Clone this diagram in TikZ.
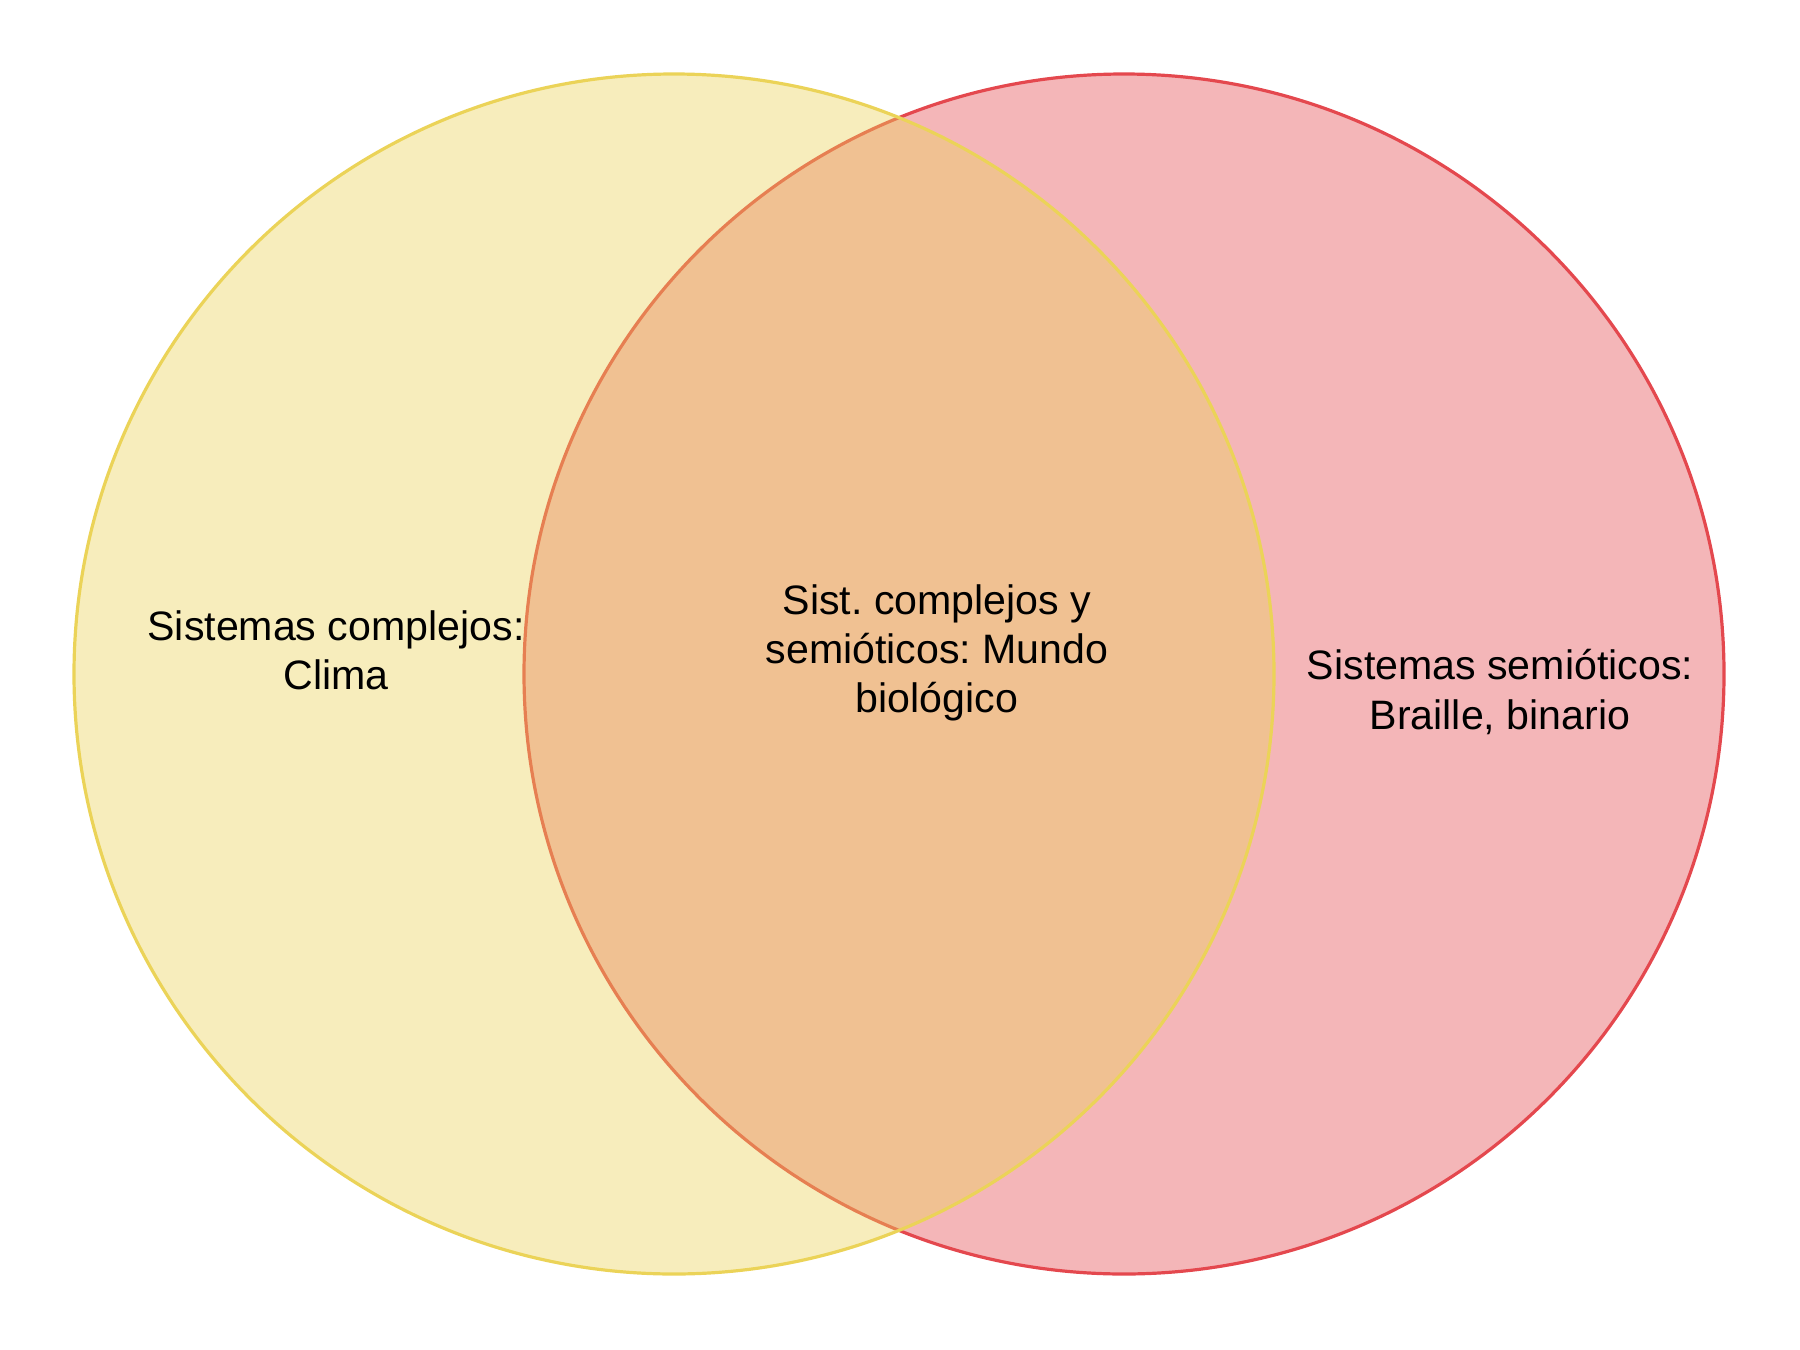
\documentclass[tikz,border=0pt]{standalone}
\usepackage{fontspec}
\setmainfont{Liberation Sans}
\frenchspacing
\definecolor{vennyellow}{RGB}{235,211,88}
\definecolor{vennred}{RGB}{228,72,78}
\tikzset{
    venn/.style={circle, draw, line width=0.32mm, minimum size=120mm, inner sep=0pt, fill opacity=0.4},
    label text/.style={align=center, font=\fontsize{11.7}{14}\selectfont, text=black}
}
\begin{document}
\begin{tikzpicture}[x=0.1mm, y=-0.1mm]
    \useasboundingbox (0,0) rectangle (1800,1350);

    % Sets (red first, yellow drawn over it)
    \node[venn, draw=vennred, fill=vennred] (semioticos) at (1124,674) {};
    \node[venn, draw=vennyellow, fill=vennyellow] (complejos) at (674,674) {};

    % Labels
    \node[label text] (clima) at (336,650) {Sistemas complejos:\\Clima};
    \node[label text] (mundo) at (937,653) {Sist. complejos y\\semióticos: Mundo\\biológico};
    \node[label text] (braille) at (1500,692) {Sistemas semióticos:\\Braille, binario};
\end{tikzpicture}
\end{document}
